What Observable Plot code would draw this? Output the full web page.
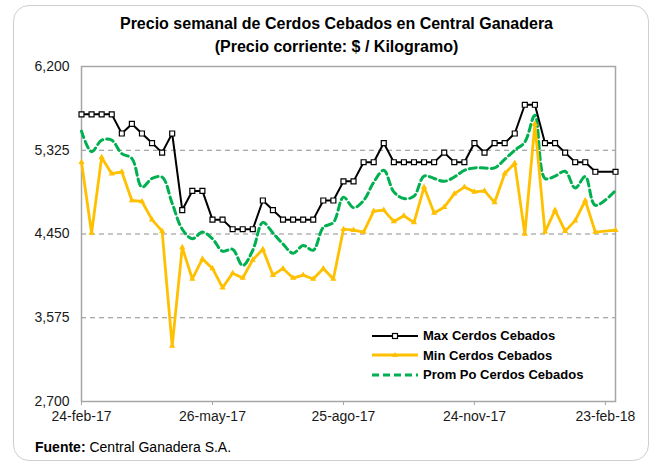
<!DOCTYPE html>
<html><head><meta charset="utf-8">
<script src="https://cdn.jsdelivr.net/npm/d3@7"></script>
<script src="https://cdn.jsdelivr.net/npm/@observablehq/plot@0.6"></script>
<style>
body{margin:0;background:#fff;font-family:"Liberation Sans",Arial,sans-serif;}
#wrap{position:relative;width:654px;height:466px;overflow:hidden;background:#fff;}
#box{position:absolute;left:13px;top:5px;width:636px;height:456px;border:1px solid #cfcfcf;border-radius:16px;box-sizing:border-box;}
.t{position:absolute;left:0;width:673px;text-align:center;font-weight:bold;font-size:16px;color:#000;line-height:18px;white-space:nowrap;}
#chart{position:absolute;left:0;top:0;}
#legend{position:absolute;left:372px;top:326px;font-weight:bold;font-size:13px;color:#000;}
#legend .row{display:flex;align-items:center;height:19.5px;}
#legend svg{margin-right:5px;}
#foot{position:absolute;left:35px;top:439px;font-size:14px;color:#000;white-space:nowrap;}
</style></head>
<body>
<div id="wrap">
  <div id="box"></div>
  <div id="chart"></div>
  <div class="t" id="t1" style="top:15px"></div>
  <div class="t" id="t2" style="top:38px"></div>
  <div id="legend"></div>
  <div id="foot"><b>Fuente:</b> Central Ganadera S.A.</div>
</div>
<script>
const titleLines = ["Precio semanal de Cerdos Cebados en Central Ganadera", "(Precio corriente: $ / Kilogramo)"];
const dates = ["2017-02-24","2017-03-03","2017-03-10","2017-03-17","2017-03-24","2017-03-31","2017-04-07","2017-04-14","2017-04-21","2017-04-28",
"2017-05-05","2017-05-12","2017-05-19","2017-05-26","2017-06-02","2017-06-09","2017-06-16","2017-06-23","2017-06-30","2017-07-07",
"2017-07-14","2017-07-21","2017-07-28","2017-08-04","2017-08-11","2017-08-18","2017-08-25","2017-09-01","2017-09-08","2017-09-15",
"2017-09-22","2017-09-29","2017-10-06","2017-10-13","2017-10-20","2017-10-27","2017-11-03","2017-11-10","2017-11-17","2017-11-24",
"2017-12-01","2017-12-08","2017-12-15","2017-12-22","2017-12-29","2018-01-05","2018-01-12","2018-01-19","2018-01-26","2018-02-02",
"2018-02-09","2018-02-16","2018-03-02"];
const maxVals = [5700,5700,5700,5700,5500,5600,5500,5400,5300,5500,
4700,4900,4900,4600,4600,4500,4500,4500,4800,4700,
4600,4600,4600,4600,4800,4800,5000,5000,5200,5200,
5400,5200,5200,5200,5200,5200,5300,5200,5200,5400,
5300,5400,5400,5500,5800,5800,5400,5400,5300,5200,
5200,5100,5100];
const minVals = [5200,4460,5250,5080,5100,4800,4790,4600,4480,3280,
4310,3980,4190,4090,3890,4040,3990,4180,4290,4020,
4090,3990,4020,3980,4090,3980,4500,4490,4470,4690,
4700,4580,4640,4570,4940,4670,4730,4870,4940,4890,
4900,4780,5080,5190,4450,5600,4470,4700,4480,4590,
4800,4470,4490];
const promVals = [5525,5310,5430,5430,5290,5240,4940,5030,5045,4770,
4500,4400,4470,4400,4270,4290,4120,4280,4570,4460,
4345,4250,4330,4280,4520,4570,4835,4725,4800,4990,
5115,4890,4820,4845,5055,5030,5000,5045,5115,5140,
5140,5140,5230,5325,5410,5690,5030,5055,5105,4930,
5050,4750,4905];
const xDomain = ["2017-02-24","2018-03-02"];
const xTicks = ["2017-02-24","2017-05-26","2017-08-25","2017-11-24","2018-02-23"];
const xTickLabels = ["24-feb-17","26-may-17","25-ago-17","24-nov-17","23-feb-18"];
const yTicks = [2700,3575,4450,5325,6200];
const gridVals = [3575,4450,5325];
const seriesNames = ["Max Cerdos Cebados","Min Cerdos Cebados","Prom Po Cerdos Cebados"];
const seriesColors = ["#000000","#FFC000","#00B050"];

document.getElementById("t1").textContent = titleLines[0];
document.getElementById("t2").textContent = titleLines[1];

const parse = d3.utcParse("%Y-%m-%d");
const rows = dates.map((d,i)=>({date:parse(d), max:maxVals[i], min:minVals[i], prom:promVals[i]}));
const tickDates = xTicks.map(parse);
const labelOf = new Map(tickDates.map((d,i)=>[+d, xTickLabels[i]]));

const chart = Plot.plot({
  width:654, height:466,
  marginLeft:81, marginRight:39, marginTop:66, marginBottom:65,
  style:{fontFamily:"'Liberation Sans', Arial, sans-serif", fontSize:"14px", color:"#1a1a1a", background:"transparent", overflow:"visible"},
  x:{type:"utc", domain:xDomain.map(parse)},
  y:{domain:[yTicks[0], yTicks[yTicks.length-1]]},
  marks:[
    Plot.ruleY(gridVals,{stroke:"#8c8c8c", strokeDasharray:"5,4", strokeWidth:1}),
    Plot.frame({stroke:"#a6a6a6", strokeWidth:1.5}),
    Plot.axisX({ticks:tickDates, tickFormat:d=>labelOf.get(+d), tickSize:4, tickPadding:6, fontSize:14, stroke:"#a6a6a6", label:null}),
    Plot.axisY({ticks:yTicks, tickFormat:d3.format(","), tickSize:0, tickPadding:12, fontSize:14, label:null}),
    Plot.line(rows,{x:"date", y:"prom", stroke:seriesColors[2], strokeWidth:3, strokeDasharray:"7,4", curve:"catmull-rom"}),
    Plot.line(rows,{x:"date", y:"min", stroke:seriesColors[1], strokeWidth:2.8}),
    Plot.dot(rows,{x:"date", y:"min", symbol:"triangle", r:2.3, fill:seriesColors[1]}),
    Plot.line(rows,{x:"date", y:"max", stroke:seriesColors[0], strokeWidth:2}),
    Plot.dot(rows,{x:"date", y:"max", symbol:"square", r:2.8, fill:"#fff", stroke:seriesColors[0], strokeWidth:1.2})
  ]
});
document.getElementById("chart").appendChild(chart);

// legend
const lg = document.getElementById("legend");
const ns = "http://www.w3.org/2000/svg";
seriesNames.forEach((name,i)=>{
  const row = document.createElement("div"); row.className="row";
  const s = document.createElementNS(ns,"svg"); s.setAttribute("width","46"); s.setAttribute("height","10");
  const l = document.createElementNS(ns,"line");
  l.setAttribute("x1","0"); l.setAttribute("x2","46"); l.setAttribute("y1","5"); l.setAttribute("y2","5");
  l.setAttribute("stroke", seriesColors[i]);
  l.setAttribute("stroke-width", i===0?2:(i===1?2.8:3));
  if(i===2) l.setAttribute("stroke-dasharray","7,4");
  s.appendChild(l);
  if(i===0){
    const r = document.createElementNS(ns,"rect");
    r.setAttribute("x","20.5");r.setAttribute("y","2.5");r.setAttribute("width","5");r.setAttribute("height","5");
    r.setAttribute("fill","#fff");r.setAttribute("stroke","#000");r.setAttribute("stroke-width","1.2");
    s.appendChild(r);
  } else if(i===1){
    const p = document.createElementNS(ns,"path");
    p.setAttribute("d","M23,2 L26,7 L20,7 Z"); p.setAttribute("fill",seriesColors[1]);
    s.appendChild(p);
  }
  row.appendChild(s);
  const tx = document.createElement("span"); tx.textContent = name;
  row.appendChild(tx);
  lg.appendChild(row);
});
</script>
</body></html>
